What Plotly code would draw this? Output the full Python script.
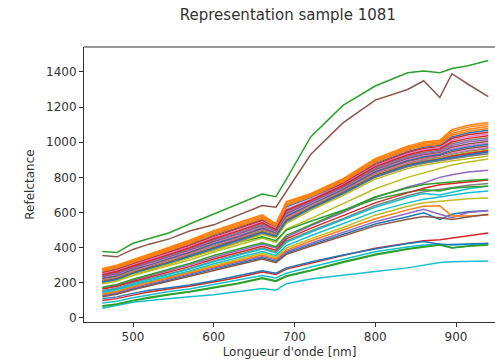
import plotly.graph_objects as go

wavelength = [462, 480, 500, 520, 545, 570, 600, 630, 660, 677, 690, 720, 760, 800, 840, 860, 880, 895, 915, 940]

tab10 = ["#1f77b4", "#ff7f0e", "#2ca02c", "#d62728", "#9467bd",
         "#8c564b", "#e377c2", "#7f7f7f", "#bcbd22", "#17becf"]

s00 = [261, 280, 311, 340, 378, 417, 470, 514, 560, 517, 632, 685, 770, 880, 947, 971, 982, 1030, 1053, 1068]
s01 = [276, 296, 326, 356, 396, 435, 490, 535, 580, 531, 655, 701, 786, 900, 969, 994, 1004, 1062, 1086, 1101]
s02 = [378, 372, 425, 450, 485, 535, 592, 645, 705, 690, 790, 1030, 1210, 1320, 1395, 1405, 1395, 1420, 1435, 1465]
s03 = [256, 275, 306, 335, 373, 412, 463, 507, 554, 505, 610, 672, 765, 873, 940, 964, 975, 1021, 1043, 1057]
s04 = [170, 185, 215, 240, 272, 302, 345, 382, 420, 398, 460, 525, 600, 685, 745, 768, 800, 815, 830, 840]
s05 = [355, 348, 390, 420, 450, 495, 530, 585, 640, 630, 720, 930, 1110, 1240, 1300, 1350, 1255, 1390, 1330, 1260]
s06 = [251, 269, 301, 329, 368, 406, 457, 500, 547, 508, 619, 674, 759, 867, 934, 957, 969, 1011, 1032, 1047]
s07 = [242, 259, 292, 319, 357, 394, 445, 487, 535, 499, 605, 664, 749, 855, 920, 942, 955, 991, 1011, 1026]
s08 = [195, 210, 242, 265, 298, 330, 375, 415, 455, 430, 505, 565, 650, 735, 800, 825, 850, 870, 888, 905]
s09 = [55, 70, 90, 100, 112, 120, 132, 148, 168, 158, 195, 222, 245, 265, 285, 300, 315, 320, 322, 324]
s10 = [125, 140, 165, 188, 215, 242, 278, 310, 342, 322, 370, 416, 476, 535, 576, 598, 560, 590, 605, 612]
s11 = [266, 285, 316, 345, 384, 423, 476, 520, 566, 521, 639, 690, 775, 886, 954, 978, 989, 1040, 1063, 1078]
s12 = [70, 80, 100, 118, 135, 150, 175, 198, 228, 212, 240, 272, 320, 362, 394, 405, 420, 400, 410, 421]
s13 = [100, 110, 130, 148, 165, 180, 205, 230, 262, 248, 278, 312, 355, 397, 428, 440, 445, 455, 470, 484]
s14 = [237, 254, 287, 314, 351, 389, 438, 481, 528, 494, 598, 659, 744, 848, 913, 935, 948, 981, 1001, 1016]
s15 = [232, 249, 282, 309, 346, 383, 432, 474, 522, 490, 591, 654, 739, 842, 906, 928, 941, 971, 990, 1005]
s16 = [228, 245, 278, 305, 342, 378, 427, 469, 517, 486, 585, 650, 735, 837, 900, 922, 935, 963, 981, 996]
s17 = [155, 170, 200, 222, 252, 282, 325, 362, 398, 376, 438, 495, 565, 640, 695, 718, 732, 745, 755, 765]
s18 = [140, 155, 182, 205, 235, 262, 300, 335, 368, 346, 398, 450, 515, 585, 636, 656, 663, 672, 678, 683]
s19 = [150, 165, 195, 218, 248, 278, 320, 356, 392, 370, 430, 488, 558, 630, 686, 708, 700, 715, 735, 751]
s20 = [224, 240, 274, 300, 337, 373, 422, 463, 511, 482, 580, 645, 730, 832, 895, 916, 930, 955, 973, 988]
s21 = [270, 290, 320, 350, 389, 429, 482, 527, 572, 526, 646, 695, 780, 892, 961, 986, 996, 1050, 1074, 1089]
s22 = [210, 222, 250, 275, 310, 345, 405, 430, 462, 440, 500, 550, 612, 675, 715, 730, 722, 738, 745, 750]
s23 = [165, 180, 208, 232, 262, 292, 335, 372, 408, 386, 450, 510, 582, 655, 712, 738, 758, 765, 775, 785]
s24 = [130, 145, 172, 195, 222, 250, 285, 318, 350, 330, 378, 426, 486, 548, 596, 618, 590, 570, 600, 610]
s25 = [220, 236, 270, 296, 333, 369, 416, 458, 506, 479, 574, 641, 726, 826, 889, 910, 924, 946, 964, 979]
s26 = [216, 232, 266, 292, 328, 364, 411, 452, 501, 475, 568, 637, 722, 821, 883, 904, 918, 938, 955, 970]
s27 = [213, 229, 263, 289, 324, 360, 407, 448, 497, 472, 563, 634, 719, 817, 878, 899, 913, 931, 948, 963]
s28 = [210, 225, 260, 285, 321, 356, 403, 443, 493, 469, 559, 630, 715, 813, 874, 894, 909, 925, 941, 956]
s29 = [85, 95, 115, 132, 150, 165, 190, 214, 242, 228, 255, 290, 335, 377, 404, 415, 420, 415, 418, 422]
s30 = [110, 120, 140, 158, 172, 188, 212, 238, 268, 255, 285, 318, 358, 393, 424, 435, 420, 418, 420, 425]
s31 = [135, 150, 178, 200, 228, 256, 292, 325, 358, 336, 386, 438, 500, 565, 615, 636, 638, 580, 580, 586]
s32 = [65, 78, 98, 115, 132, 148, 172, 195, 225, 208, 236, 268, 315, 358, 391, 402, 415, 398, 408, 415]
s33 = [207, 223, 257, 283, 318, 354, 399, 440, 489, 467, 555, 628, 713, 809, 870, 891, 905, 920, 936, 951]
s34 = [203, 218, 253, 278, 314, 349, 394, 434, 484, 463, 550, 623, 708, 804, 865, 885, 900, 912, 927, 942]
s35 = [120, 135, 160, 182, 210, 236, 272, 303, 335, 315, 362, 408, 466, 524, 562, 578, 570, 560, 575, 590]
s36 = [202, 217, 252, 277, 312, 347, 392, 432, 482, 462, 547, 622, 707, 802, 862, 882, 897, 908, 923, 938]
s37 = [200, 215, 250, 275, 310, 345, 390, 430, 480, 460, 545, 620, 705, 800, 860, 880, 895, 905, 920, 935]
s38 = [198, 213, 247, 272, 307, 342, 386, 426, 475, 455, 538, 612, 696, 790, 850, 870, 885, 895, 908, 922]
s39 = [145, 160, 188, 210, 240, 268, 308, 343, 378, 356, 412, 468, 535, 605, 655, 676, 688, 700, 712, 722]
s40 = [205, 220, 255, 280, 315, 351, 396, 437, 486, 465, 552, 625, 710, 806, 867, 887, 902, 915, 930, 946]
s41 = [282, 300, 332, 362, 402, 442, 497, 542, 587, 537, 662, 707, 792, 907, 977, 1002, 1012, 1072, 1097, 1112]
s42 = [175, 190, 220, 245, 278, 310, 355, 392, 428, 405, 470, 530, 610, 690, 740, 760, 768, 775, 782, 790]
s43 = [246, 264, 296, 324, 362, 400, 451, 494, 541, 503, 612, 669, 754, 861, 927, 950, 962, 1001, 1022, 1037]

series = [s00, s01, s02, s03, s04, s05, s06, s07, s08, s09, s10, s11, s12, s13, s14,
          s15, s16, s17, s18, s19, s20, s21, s22, s23, s24, s25, s26, s27, s28, s29,
          s30, s31, s32, s33, s34, s35, s36, s37, s38, s39, s40, s41, s42, s43]

x_ticks = [500, 600, 700, 800, 900]
y_ticks = [0, 200, 400, 600, 800, 1000, 1200, 1400]

fig = go.Figure()
for i, s in enumerate(series):
    fig.add_trace(go.Scatter(x=wavelength, y=s, mode="lines",
                             line=dict(color=tab10[i % 10], width=1.5),
                             hoverinfo="skip", showlegend=False))

font = "DejaVu Sans, sans-serif"
fig.update_layout(
    width=495, height=361,
    margin=dict(l=84, r=0, t=47, b=39),
    paper_bgcolor="white", plot_bgcolor="white",
    font=dict(family=font, size=12, color="#333"),
    title=dict(text="Representation sample 1081", xref="paper", x=0.496, xanchor="center",
               yref="container", y=1 - 15 / 361, yanchor="middle",
               font=dict(size=15, color="#333")),
    showlegend=False,
)
fig.update_xaxes(range=[439.3, 948.3], tickvals=x_ticks, showgrid=False, zeroline=False,
                 showline=True, linecolor="#333", linewidth=1, ticks="outside",
                 ticklen=4, tickcolor="#333",
                 title=dict(text="Longueur d'onde [nm]", font=dict(size=12), standoff=4))
fig.update_yaxes(range=[-23, 1542], tickvals=y_ticks, showgrid=False, zeroline=False,
                 showline=True, linecolor="#333", linewidth=1, ticks="outside",
                 ticklen=4, tickcolor="#333",
                 title=dict(text="Refelctance", font=dict(size=12), standoff=8))
fig.add_shape(type="line", xref="paper", yref="paper", x0=0, x1=1, y0=1, y1=1,
              line=dict(color="#333", width=1))

fig.write_html("out.html")
